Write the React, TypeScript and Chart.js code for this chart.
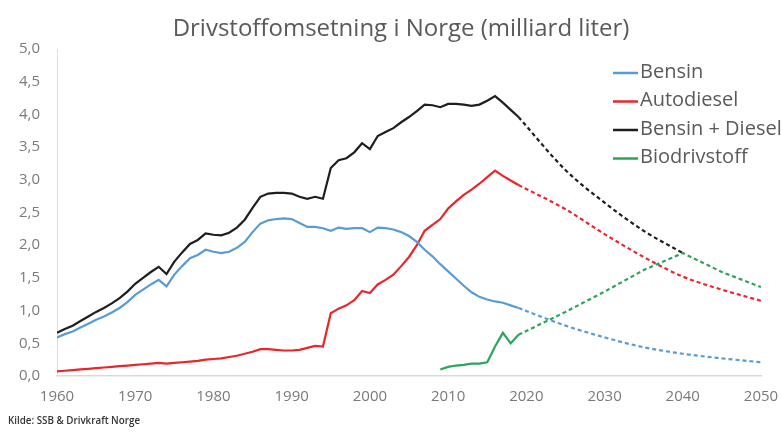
import React, { useEffect, useRef } from "react";
import { Chart, registerables } from "chart.js";

Chart.register(...registerables);

const titleText = "Drivstoffomsetning i Norge (milliard liter)";
const sourceText = "Kilde: SSB & Drivkraft Norge";

const histYears = [
  1960, 1961, 1962, 1963, 1964, 1965, 1966, 1967, 1968, 1969,
  1970, 1971, 1972, 1973, 1974, 1975, 1976, 1977, 1978, 1979,
  1980, 1981, 1982, 1983, 1984, 1985, 1986, 1987, 1988, 1989,
  1990, 1991, 1992, 1993, 1994, 1995, 1996, 1997, 1998, 1999,
  2000, 2001, 2002, 2003, 2004, 2005, 2006, 2007, 2008, 2009,
  2010, 2011, 2012, 2013, 2014, 2015, 2016, 2017, 2018, 2019,
];

const bensin = [
  0.59, 0.64, 0.68, 0.74, 0.8, 0.86, 0.91, 0.97, 1.04, 1.13,
  1.24, 1.32, 1.4, 1.47, 1.37, 1.55, 1.68, 1.8, 1.85, 1.93,
  1.9, 1.88, 1.9, 1.96, 2.05, 2.2, 2.33, 2.38, 2.4, 2.41,
  2.4, 2.34, 2.28, 2.28, 2.26, 2.22, 2.27, 2.25, 2.26, 2.26,
  2.2, 2.27, 2.26, 2.24, 2.2, 2.14, 2.05, 1.93, 1.83, 1.71,
  1.6, 1.49, 1.38, 1.28, 1.21, 1.17, 1.14, 1.12, 1.08, 1.04,
];

const autodiesel = [
  0.07, 0.08, 0.09, 0.1, 0.11, 0.12, 0.13, 0.14, 0.15, 0.16,
  0.17, 0.18, 0.19, 0.2, 0.19, 0.2, 0.21, 0.22, 0.23, 0.25,
  0.26, 0.27, 0.29, 0.31, 0.34, 0.37, 0.41, 0.41, 0.4, 0.39,
  0.39, 0.4, 0.43, 0.46, 0.45, 0.96, 1.03, 1.08, 1.16, 1.3,
  1.27, 1.4, 1.47, 1.55, 1.68, 1.82, 2.0, 2.22, 2.31, 2.4,
  2.56, 2.67, 2.77, 2.85, 2.94, 3.04, 3.14, 3.06, 2.99, 2.92,
];

const bensinDiesel = [
  0.66, 0.72, 0.77, 0.84, 0.91, 0.98, 1.04, 1.11, 1.19, 1.29,
  1.41, 1.5, 1.59, 1.67, 1.56, 1.75, 1.89, 2.02, 2.08, 2.18,
  2.16, 2.15, 2.19, 2.27, 2.39, 2.57, 2.74, 2.79, 2.8, 2.8,
  2.79, 2.74, 2.71, 2.74, 2.71, 3.18, 3.3, 3.33, 3.42, 3.56,
  3.47, 3.67, 3.73, 3.79, 3.88, 3.96, 4.05, 4.15, 4.14, 4.11,
  4.16, 4.16, 4.15, 4.13, 4.15, 4.21, 4.28, 4.18, 4.07, 3.96,
];

const bioYears = [2009, 2010, 2011, 2012, 2013, 2014, 2015, 2016, 2017, 2018, 2019];
const bio = [0.1, 0.14, 0.16, 0.17, 0.19, 0.19, 0.21, 0.45, 0.66, 0.5, 0.63];

const projYears = [2019, 2025, 2030, 2035, 2040, 2045, 2050];
const bensinProj = [1.04, 0.77, 0.59, 0.44, 0.34, 0.27, 0.21];
const dieselProj = [2.92, 2.55, 2.17, 1.82, 1.52, 1.32, 1.15];
const totalProjYears = [2019, 2025, 2030, 2035, 2040];
const totalProj = [3.96, 3.15, 2.65, 2.22, 1.88];
const bioProj = [0.63, 0.98, 1.29, 1.62, 1.88, 1.59, 1.36];

const legendLabels = ["Bensin", "Autodiesel", "Bensin + Diesel", "Biodrivstoff"];

const BLUE = "#5b9bd5";
const RED = "#e8262b";
const BLACK = "#1e1e1e";
const GREEN = "#2ea35a";
const legendColors = [BLUE, RED, BLACK, GREEN];

const FONT = '"Open Sans", "DejaVu Sans", sans-serif';

function pts(xs: number[], ys: number[]) {
  return xs.map((x, i) => ({ x, y: ys[i] }));
}

const overlayPlugin = {
  id: "overlay",
  afterDraw(chart: any) {
    const ctx = chart.ctx as CanvasRenderingContext2D;
    ctx.save();
    // title
    ctx.font = `400 24px ${FONT}`;
    ctx.fillStyle = "#5a5a5a";
    ctx.textAlign = "center";
    ctx.textBaseline = "middle";
    ctx.fillText(titleText, 401, 29);
    // legend
    ctx.font = `400 20px ${FONT}`;
    ctx.textAlign = "left";
    legendLabels.forEach((label, i) => {
      const y = 72 + i * 28.5;
      ctx.strokeStyle = legendColors[i];
      ctx.lineWidth = 2.5;
      ctx.beginPath();
      ctx.moveTo(613, y + 1);
      ctx.lineTo(638, y + 1);
      ctx.stroke();
      ctx.fillStyle = "#5a5a5a";
      ctx.fillText(label, 640, y);
    });
    // source
    ctx.font = `600 9.8px ${FONT}`;
    ctx.fillStyle = "#333";
    ctx.fillText(sourceText, 8, 421);
    ctx.restore();
  },
};

export default function App() {
  const ref = useRef<HTMLCanvasElement>(null);
  useEffect(() => {
    document.body.style.margin = "0";
    if (!ref.current) return;
    const solid = { borderWidth: 2.2, pointRadius: 0, fill: false };
    const dashed = { borderWidth: 2.2, pointRadius: 0, fill: false, borderDash: [4, 3] };
    const chart = new Chart(ref.current, {
      type: "line",
      data: {
        datasets: [
          { ...solid, label: "Biodrivstoff", data: pts(bioYears, bio), borderColor: GREEN },
          { ...dashed, label: "Biodrivstoff prognose", data: pts(projYears, bioProj), borderColor: GREEN },
          { ...solid, label: "Bensin", data: pts(histYears, bensin), borderColor: BLUE },
          { ...dashed, label: "Bensin prognose", data: pts(projYears, bensinProj), borderColor: BLUE, cubicInterpolationMode: "monotone" },
          { ...solid, label: "Autodiesel", data: pts(histYears, autodiesel), borderColor: RED },
          { ...dashed, label: "Autodiesel prognose", data: pts(projYears, dieselProj), borderColor: RED, cubicInterpolationMode: "monotone" },
          { ...solid, label: "Bensin + Diesel", data: pts(histYears, bensinDiesel), borderColor: BLACK },
          { ...dashed, label: "Bensin + Diesel prognose", data: pts(totalProjYears, totalProj), borderColor: BLACK, cubicInterpolationMode: "monotone" },
        ] as any,
      },
      options: {
        responsive: false,
        animation: false,
        devicePixelRatio: 1,
        layout: { padding: { left: 8, right: 21, top: 49, bottom: 0 } },
        plugins: {
          legend: { display: false },
          title: { display: false },
          tooltip: { enabled: false },
        },
        scales: {
          x: {
            type: "linear",
            min: 1960,
            max: 2050,
            grid: { display: false, drawTicks: false },
            border: { display: true, color: "#d9d9d9", width: 1.5 },
            ticks: {
              stepSize: 10,
              padding: 12,
              color: "#7a7a7a",
              font: { family: FONT, size: 15 },
              callback: (v: any) => String(v),
            },
            afterFit: (s: any) => {
              s.height = 60;
              s.paddingLeft = 0;
              s.paddingRight = 0;
            },
          },
          y: {
            min: 0,
            max: 5,
            grid: { display: false, drawTicks: false },
            border: { display: true, color: "#e0e0e0", width: 1 },
            ticks: {
              stepSize: 0.5,
              padding: 17,
              color: "#7a7a7a",
              font: { family: FONT, size: 15 },
              callback: (v: any) => Number(v).toFixed(1).replace(".", ","),
            },
            afterFit: (s: any) => {
              s.width = 49;
              s.paddingTop = 0;
              s.paddingBottom = 0;
            },
          },
        },
      },
      plugins: [overlayPlugin],
    });
    return () => chart.destroy();
  }, []);
  return (
    <div style={{ width: 782, height: 436, background: "#fff" }}>
      <canvas ref={ref} width={782} height={436} />
    </div>
  );
}
